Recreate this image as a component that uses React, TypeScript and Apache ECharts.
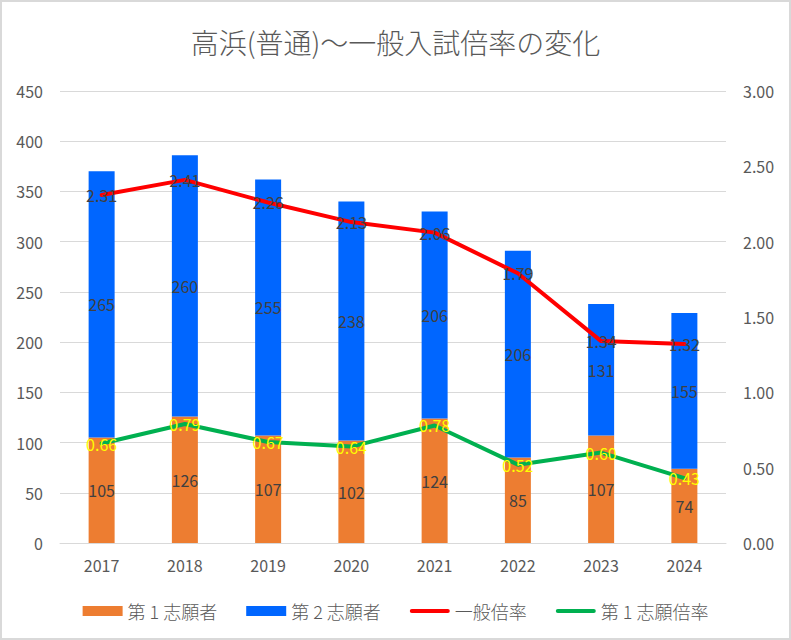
import React, { useEffect, useRef } from "react";
import * as echarts from "echarts";

const categories = ["2017", "2018", "2019", "2020", "2021", "2022", "2023", "2024"];
const first = [105, 126, 107, 102, 124, 85, 107, 74];
const second = [265, 260, 255, 238, 206, 206, 131, 155];
const generalRate = [2.31, 2.41, 2.26, 2.13, 2.06, 1.79, 1.34, 1.32];
const firstRate = [0.66, 0.79, 0.67, 0.64, 0.78, 0.52, 0.6, 0.43];
const leftTicks = { min: 0, max: 450, interval: 50 };
const rightTicks = { min: 0, max: 3, interval: 0.5 };

const FONT = "'Noto Sans CJK JP', 'Noto Sans', sans-serif";
const LINE_ICON = "path://M2,0 L38,0 A2,2 0 0 1 38,4 L2,4 A2,2 0 0 1 2,0 Z";

export default function App() {
  const ref = useRef<HTMLDivElement>(null);
  useEffect(() => {
    const chart = echarts.init(ref.current!, null, { renderer: "svg" });
    chart.setOption({
      animation: false,
      backgroundColor: "#fff",
      textStyle: { fontFamily: FONT },
      title: {
        text: "高浜(普通)～一般入試倍率の変化",
        left: "center",
        top: 21,
        textStyle: { fontSize: 28, fontWeight: 300, color: "#595959", fontFamily: FONT },
      },
      legend: {
        top: 595,
        left: "center",
        itemGap: 29,
        itemWidth: 40,
        itemHeight: 10,
        textStyle: { fontSize: 18, color: "#595959", fontFamily: FONT, fontWeight: 300 },
        data: [
          { name: "第１志願者", icon: "rect" },
          { name: "第２志願者", icon: "rect" },
          { name: "一般倍率", icon: LINE_ICON },
          { name: "第１志願倍率", icon: LINE_ICON },
        ],
        formatter: (n: string) => n.replace("１", " 1 ").replace("２", " 2 "),
      },
      grid: { left: 58, right: 63, top: 89, bottom: 95 },
      xAxis: {
        type: "category",
        data: categories,
        axisLine: { lineStyle: { color: "#d9d9d9", width: 1 } },
        axisTick: { show: false },
        axisLabel: { color: "#595959", fontSize: 16, margin: 14 },
      },
      yAxis: [
        {
          type: "value",
          ...leftTicks,
          axisLine: { show: false },
          axisTick: { show: false },
          splitLine: { lineStyle: { color: "#d9d9d9", width: 1 } },
          axisLabel: { color: "#595959", fontSize: 16, margin: 17 },
        },
        {
          type: "value",
          ...rightTicks,
          axisLine: { show: false },
          axisTick: { show: false },
          splitLine: { show: false },
          axisLabel: {
            color: "#595959",
            fontSize: 16,
            margin: 17,
            formatter: (v: number) => v.toFixed(2),
          },
        },
      ],
      series: [
        {
          name: "第１志願者",
          type: "bar",
          stack: "total",
          data: first,
          barWidth: 26,
          itemStyle: { color: "#ED7D31" },
          label: { show: true, position: "inside", color: "#404040", fontSize: 16 },
        },
        {
          name: "第２志願者",
          type: "bar",
          stack: "total",
          data: second,
          barWidth: 26,
          itemStyle: { color: "#0066FF" },
          label: { show: true, position: "inside", color: "#404040", fontSize: 16 },
        },
        {
          name: "一般倍率",
          type: "line",
          yAxisIndex: 1,
          data: generalRate,
          symbol: "circle",
          symbolSize: 1,
          lineStyle: { color: "#FF0000", width: 4, cap: "round" },
          itemStyle: { color: "#FF0000" },
          label: {
            show: true,
            position: "inside",
            color: "#404040",
            fontSize: 16,
            formatter: (p: any) => Number(p.value).toFixed(2),
          },
          z: 5,
        },
        {
          name: "第１志願倍率",
          type: "line",
          yAxisIndex: 1,
          data: firstRate,
          symbol: "circle",
          symbolSize: 1,
          lineStyle: { color: "#00B050", width: 4, cap: "round" },
          itemStyle: { color: "#00B050" },
          label: {
            show: true,
            position: "inside",
            color: "#FFFF00",
            fontSize: 16,
            formatter: (p: any) => Number(p.value).toFixed(2),
          },
          z: 5,
        },
      ],
    });
    return () => chart.dispose();
  }, []);
  return (
    <div
      ref={ref}
      style={{
        width: 787,
        height: 636,
        border: "2px solid #d9d9d9",
        position: "absolute",
        left: 0,
        top: 0,
      }}
    />
  );
}
